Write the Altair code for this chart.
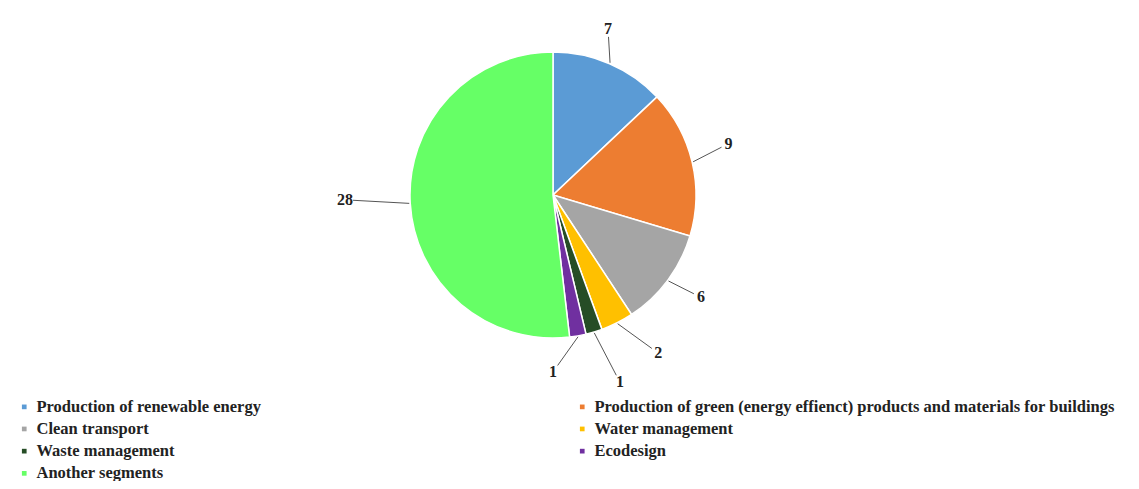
import altair as alt
import pandas as pd

# ---- data ----
categories = [
    "Production of renewable energy",
    "Production of green (energy effienct) products and materials for buildings",
    "Clean transport",
    "Water management",
    "Waste management",
    "Ecodesign",
    "Another segments",
]
values = [7, 9, 6, 2, 1, 1, 28]
colors = ["#5B9BD5", "#ED7D31", "#A5A5A5", "#FFC000", "#264D26", "#7030A0", "#66FF66"]

# legend is filled column by column: left column first, then right column
legend_order = [0, 2, 4, 6, 1, 3, 5]

# ---- layout (label placement tweaks, degrees / pixels) ----
label_nudge_deg = [-5, -3, -2, -7, -3, 10, 2]
label_extra_px = [32, 40, 37, 47, 56, 34, 65]

CX, CY, R = 545, 187, 143
FONT = "Liberation Serif"

df = pd.DataFrame({
    "category": categories,
    "value": values,
    "order": list(range(len(values))),
    "nudge": label_nudge_deg,
    "extra": label_extra_px,
})

color_scale = alt.Scale(
    domain=[categories[i] for i in legend_order],
    range=[colors[i] for i in legend_order],
)

base = alt.Chart(df)

pie = base.mark_arc(radius=R, stroke="white", strokeWidth=1.5).encode(
    theta=alt.Theta("value:Q", stack=True),
    order=alt.Order("order:Q"),
    color=alt.Color(
        "category:N",
        scale=color_scale,
        legend=alt.Legend(
            title=None,
            orient="none",
            legendX=8,
            legendY=390.5,
            columns=2,
            columnPadding=313,
            rowPadding=5.2,
            symbolType="square",
            symbolSize=22,
            symbolStrokeWidth=0,
            labelFont=FONT,
            labelFontSize=16.5,
            labelFontWeight="bold",
            labelColor="#222222",
            labelLimit=0,
            labelOffset=4,
            padding=0,
        ),
    ),
    x=alt.value(CX),
    y=alt.value(CY),
)

geo = (
    base.transform_window(cum="sum(value)", sort=[alt.SortField("order")], frame=[None, 0])
    .transform_joinaggregate(total="sum(value)")
    .transform_calculate(
        mid="(datum.cum - datum.value/2) / datum.total * 2 * PI",
    )
    .transform_calculate(
        la="datum.mid + datum.nudge * PI / 180",
        ex=f"{CX} + {R + 1} * sin(datum.mid)",
        ey=f"{CY} - {R + 1} * cos(datum.mid)",
    )
    .transform_calculate(
        lx=f"{CX} + ({R} + datum.extra) * sin(datum.la)",
        ly=f"{CY} - ({R} + datum.extra) * cos(datum.la)",
    )
    .transform_calculate(
        dd="sqrt(pow(datum.ex - datum.lx, 2) + pow(datum.ey - datum.ly, 2))",
    )
    .transform_calculate(
        sx="datum.lx + (datum.ex - datum.lx) / datum.dd * 8",
        sy="datum.ly + (datum.ey - datum.ly) / datum.dd * 8",
    )
)

lines = geo.mark_rule(color="#555555", strokeWidth=1).encode(
    x=alt.X("ex:Q", scale=None),
    y=alt.Y("ey:Q", scale=None),
    x2="sx:Q",
    y2="sy:Q",
)

labels = geo.mark_text(
    font=FONT, fontSize=16, fontWeight="bold", color="#222222",
    align="center", baseline="middle",
).encode(
    x=alt.X("lx:Q", scale=None),
    y=alt.Y("ly:Q", scale=None),
    text=alt.Text("value:Q"),
)

chart = (
    alt.layer(pie, lines, labels)
    .properties(
        width=1123, height=473, padding=0, background="white",
        autosize=alt.AutoSizeParams(type="none"),
    )
    .configure_view(stroke=None)
)

chart.save("out.html", embed_options={"renderer": "svg", "actions": False})
